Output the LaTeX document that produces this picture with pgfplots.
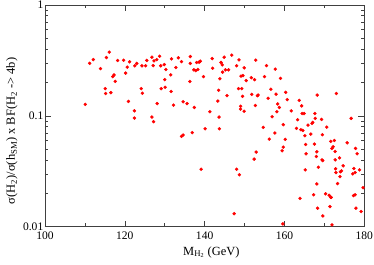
\documentclass[border=0pt]{standalone}
\usepackage{fontspec}
\setmainfont{Liberation Serif}
\usepackage{pgfplots}
\pgfplotsset{compat=1.18}
\begin{document}
\begin{tikzpicture}
\begin{axis}[
  scale only axis,
  width=319.3bp, height=221.7bp,
  xmin=100, xmax=180,
  ymode=log, ymin=0.01, ymax=1,
  xtick={100,120,140,160,180},
  minor xtick={110,130,150,170},
  ytick={0.01,0.1,1},
  yticklabels={0.01,0.1,1},
  tick align=inside,
  major tick length=6bp, minor tick length=3.5bp,
  axis line style={line width=0.8pt, black!75},
  every tick/.style={black!75, line width=0.6pt},
  tick label style={font=\fontsize{11.6}{13}\selectfont},
  yticklabel style={inner xsep=1.5bp},
  xticklabel style={inner ysep=5bp},
  /pgf/number format/assume math mode=true,
  label style={font=\fontsize{12.5}{14}\selectfont},
  xlabel={M\textsubscript{H\textsubscript{2}} (GeV)},
  ylabel={σ(H\textsubscript{2})/σ(h\textsubscript{SM}) x BF(H\textsubscript{2} -> 4b)},
  xlabel style={at={(axis description cs:0.521,-0.128)}, anchor=base},
  ylabel style={at={(axis description cs:-0.094,0.432)}, anchor=base, rotate=0},
  clip=false,
]
\coordinate (ll) at (rel axis cs:0,0);
\coordinate (ur) at (rel axis cs:1,1);
\addplot[only marks, mark=*, mark size=1.5bp, red, mark options={draw=red, fill=red}] coordinates {
(110.1,0.127)(111.2,0.298)(112.1,0.322)(113.9,0.267)(115.1,0.176)(115.4,0.336)(115.2,0.159)
(116.1,0.376)(116.5,0.162)(117.0,0.226)(117.3,0.234)(117.6,0.205)(118.2,0.316)(119.7,0.318)
(120.2,0.243)(120.6,0.275)(120.9,0.135)(121.2,0.307)(122.4,0.111)(122.4,0.0955)(122.5,0.283)
(123.0,0.297)(124.1,0.176)(124.4,0.160)(124.3,0.283)(125.2,0.283)(125.5,0.316)(126.8,0.0976)
(126.8,0.338)(127.1,0.284)(127.2,0.0886)(127.3,0.313)(128.0,0.322)(128.1,0.129)(128.7,0.345)
(129.0,0.283)(129.1,0.176)(129.9,0.290)(130.0,0.212)(130.1,0.181)(130.3,0.262)(131.5,0.234)
(131.6,0.166)(131.7,0.327)(132.2,0.125)(132.8,0.273)(133.4,0.334)(134.2,0.309)(134.2,0.0652)
(134.6,0.0671)(134.6,0.134)(135.6,0.129)(136.3,0.204)(136.4,0.343)(136.4,0.297)(136.9,0.0705)
(137.3,0.260)(137.4,0.119)(137.8,0.256)(138.0,0.303)(138.3,0.262)(138.6,0.305)(138.9,0.311)
(139.1,0.0330)(139.7,0.226)(140.1,0.0765)(141.3,0.109)(141.9,0.329)(142.0,0.269)(143.3,0.136)
(143.5,0.170)(143.6,0.0976)(143.7,0.0765)(143.8,0.216)(144.1,0.303)(144.4,0.288)(144.5,0.248)
(144.9,0.338)(145.2,0.260)(145.6,0.152)(146.0,0.260)(146.8,0.353)(147.4,0.0131)(148.0,0.0330)
(148.0,0.283)(148.5,0.176)(148.6,0.320)(148.7,0.0294)(149.0,0.122)(149.0,0.115)(149.1,0.228)
(149.3,0.176)(149.5,0.150)(149.6,0.231)(149.9,0.110)(149.9,0.271)(150.4,0.208)(151.7,0.221)
(151.8,0.156)(152.4,0.0407)(152.5,0.212)(152.7,0.124)(152.8,0.318)(152.9,0.0471)(153.2,0.152)
(153.4,0.154)(154.7,0.0787)(155.0,0.226)(155.5,0.284)(155.9,0.144)(156.2,0.0617)(156.6,0.174)
(156.9,0.0983)(157.6,0.0700)(157.7,0.264)(157.9,0.157)(158.1,0.109)(158.3,0.128)(158.7,0.119)
(159.0,0.218)(159.4,0.0484)(159.7,0.0832)(159.7,0.0522)(159.6,0.0106)(160.2,0.0613)(160.3,0.163)
(160.7,0.140)(161.7,0.111)(163.0,0.0771)(163.3,0.0923)(163.7,0.138)(163.9,0.0180)(164.1,0.0750)
(164.3,0.123)(164.4,0.105)(164.6,0.0739)(164.9,0.105)(165.1,0.0662)(165.2,0.0326)(165.3,0.0552)
(165.4,0.0455)(165.9,0.0826)(166.6,0.0685)(166.9,0.0855)(167.1,0.0873)(167.3,0.0194)(167.5,0.0556)
(167.6,0.105)(167.7,0.0949)(168.0,0.0430)(168.1,0.0474)(168.1,0.0243)(168.2,0.154)(168.3,0.0147)
(168.5,0.0344)(169.3,0.0929)(169.4,0.0401)(169.5,0.0676)(169.6,0.0125)(169.6,0.0395)(170.3,0.0198)
(170.6,0.0792)(171.2,0.0192)(171.4,0.0152)(171.6,0.0184)(171.7,0.0184)(171.6,0.0588)(171.9,0.0508)
(171.9,0.0104)(172.2,0.0526)(172.5,0.0600)(172.7,0.0477)(172.7,0.0401)(172.8,0.0333)(172.9,0.0308)
(173.0,0.159)(173.3,0.0245)(173.8,0.0418)(174.0,0.0313)(173.9,0.0283)(174.3,0.0319)(174.7,0.0354)
(175.7,0.0571)(176.7,0.0949)(177.1,0.0300)(177.3,0.0191)(177.4,0.0335)(177.7,0.0308)(177.7,0.0194)
(177.8,0.0508)(177.9,0.0147)(178.2,0.0455)(178.8,0.0326)(179.2,0.0137)(179.7,0.0225)
};
\end{axis}
\pgfresetboundingbox
\path ([shift={(-45bp,-38.3bp)}]ll) rectangle ([shift={(9.7bp,5bp)}]ur);
\end{tikzpicture}
\end{document}
